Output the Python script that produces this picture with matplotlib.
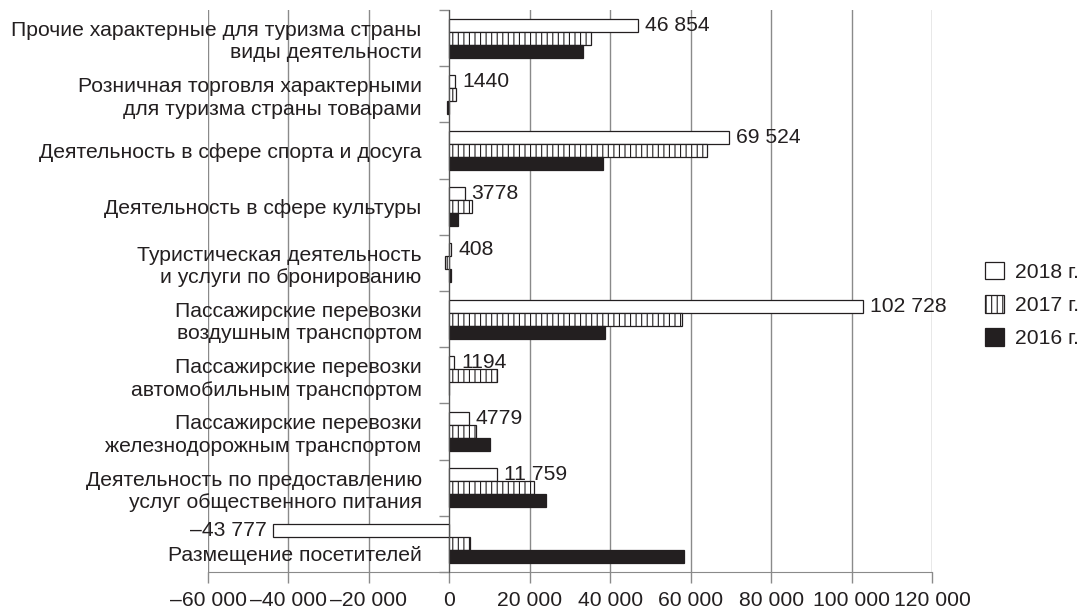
import matplotlib
matplotlib.use("Agg")
import matplotlib.pyplot as plt
import matplotlib.transforms as mtransforms
from matplotlib.patches import Patch
from matplotlib.ticker import FixedLocator

plt.rcParams['font.family'] = ['Liberation Sans', 'DejaVu Sans']
plt.rcParams['hatch.linewidth'] = 0.8
plt.rcParams['hatch.color'] = '#231f20'

categories = [
    "Прочие характерные для туризма страны\nвиды деятельности",
    "Розничная торговля характерными\nдля туризма страны товарами",
    "Деятельность в сфере спорта и досуга",
    "Деятельность в сфере культуры",
    "Туристическая деятельность\nи услуги по бронированию",
    "Пассажирские перевозки\nвоздушным транспортом",
    "Пассажирские перевозки\nавтомобильным транспортом",
    "Пассажирские перевозки\nжелезнодорожным транспортом",
    "Деятельность по предоставлению\nуслуг общественного питания",
    "Размещение посетителей",
]
values_2018 = [46854, 1440, 69524, 3778, 408, 102728, 1194, 4779, 11759, -43777]
values_2017 = [35200, 1700, 64100, 5500, -1000, 57900, 11800, 6500, 21000, 5200]
values_2016 = [33200, -600, 38100, 2200, 500, 38700, 0, 10000, 23900, 58300]
series_labels = ["2018 г.", "2017 г.", "2016 г."]
x_ticks = [-60000, -40000, -20000, 0, 20000, 40000, 60000, 80000, 100000, 120000]

TXT = '#231f20'
GRID = '#8a8a8a'
FS = 15.2


def fmt(v):
    a = abs(v)
    s = f"{a:,}".replace(",", " ") if a >= 10000 else str(a)
    return ("–" if v < 0 else "") + s


fig = plt.figure(figsize=(10.82, 6.12), dpi=100)
ax = fig.add_axes([208 / 1082, 40 / 612, (932.4 - 208) / 1082, 562 / 612])

ax.spines['left'].set_position(('data', 0))
ax.spines['left'].set_color('#555555')
ax.spines['left'].set_zorder(4)
ax.spines['bottom'].set_color(GRID)
ax.spines['top'].set_visible(False)
ax.spines['right'].set_visible(False)

n = len(categories)
ys = list(range(n))
h = 0.232

ax.barh([y - h for y in ys], values_2018, height=h, color='white',
        edgecolor=TXT, linewidth=0.9, zorder=3)
ax.barh(ys, values_2017, height=h, color='white', edgecolor=TXT,
        hatch='|||', linewidth=0.9, zorder=3)
ax.barh([y + h for y in ys], values_2016, height=h, color=TXT,
        edgecolor=TXT, linewidth=0.9, zorder=3)

for y, v in zip(ys, values_2018):
    if v >= 0:
        ax.annotate(fmt(v), (v, y - h), xytext=(7, 0), textcoords='offset pixels',
                    ha='left', va='center', fontsize=FS, color=TXT, zorder=5)
    else:
        ax.annotate(fmt(v), (v, y - h), xytext=(-6, 0), textcoords='offset pixels',
                    ha='right', va='center', fontsize=FS, color=TXT, zorder=5)

ax.set_xlim(-60000, 120000)
ax.set_ylim(n - 0.5, -0.5)

ax.set_xticks(x_ticks)
ax.set_xticklabels([fmt(t) for t in x_ticks], fontsize=FS, color=TXT)
ax.tick_params(axis='x', direction='out', length=8, width=1, color=GRID, pad=6)
for t in x_ticks:
    ax.axvline(t, color=GRID, linewidth=1, zorder=1)

ax.set_yticks(ys)
ax.set_yticklabels(categories, fontsize=FS, color=TXT, linespacing=1.22)
ax.yaxis.set_minor_locator(FixedLocator([y - 0.5 for y in range(n + 1)]))
ax.tick_params(axis='y', which='major', length=0, pad=20)
ax.tick_params(axis='y', which='minor', direction='out', length=7.5, width=1, color=GRID)

# last label sits lower in the reference (next to the 2016 bar)
last = ax.get_yticklabels()[-1]
last.set_transform(last.get_transform() +
                   mtransforms.ScaledTranslation(0, -10 / 100, fig.dpi_scale_trans))

handles = [
    Patch(facecolor='white', edgecolor=TXT, linewidth=0.9),
    Patch(facecolor='white', edgecolor=TXT, hatch='|||', linewidth=0.9),
    Patch(facecolor=TXT, edgecolor=TXT, linewidth=0.9),
]
fig.legend(handles, series_labels, loc='center left',
           bbox_to_anchor=(985 / 1082, 1 - 305 / 612), frameon=False,
           fontsize=FS, handlelength=0.9, handleheight=0.9,
           handletextpad=0.5, labelspacing=0.62, borderpad=0, borderaxespad=0,
           labelcolor=TXT)

fig.savefig("out.png", dpi=100)
